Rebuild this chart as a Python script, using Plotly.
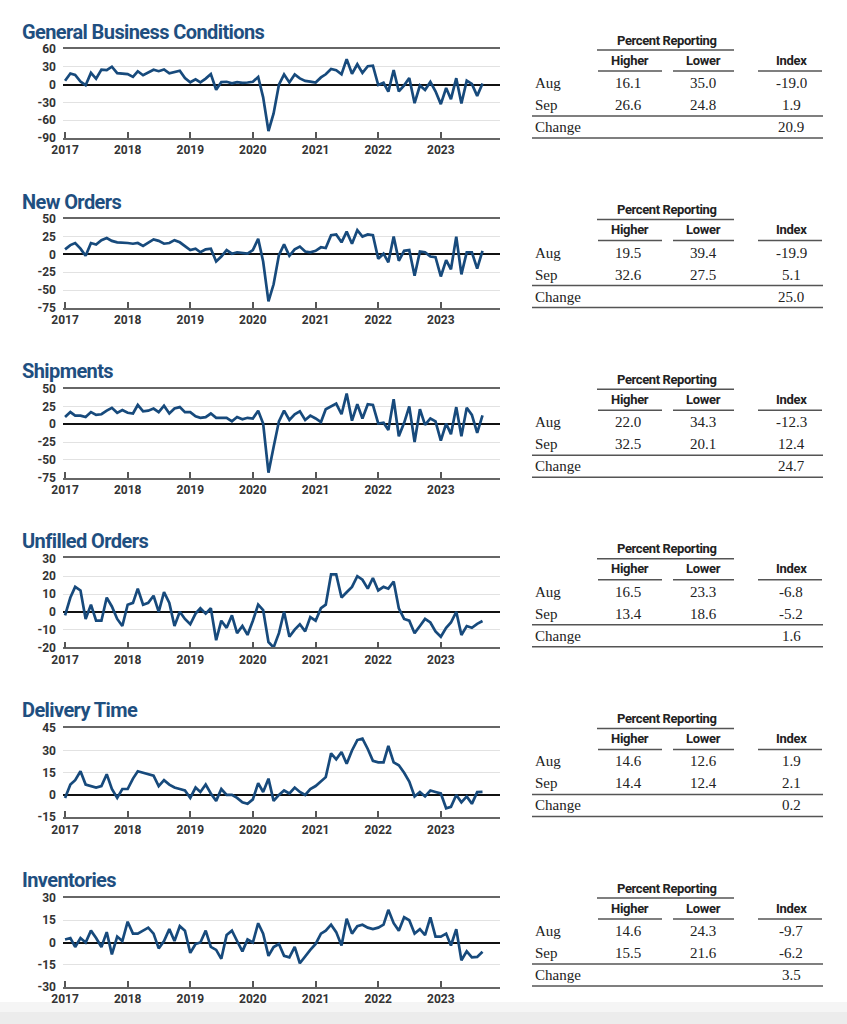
import plotly.graph_objects as go
import pandas as pd

W, H = 847, 1024

dates = pd.date_range("2017-01-01", periods=81, freq="MS")
years = [2017, 2018, 2019, 2020, 2021, 2022, 2023]

titles = ["General Business Conditions", "New Orders", "Shipments",
          "Unfilled Orders", "Delivery Time", "Inventories"]

general = [6.5, 18.7, 16.4, 5.2, -1.0, 19.8, 9.8, 25.2, 24.4, 30.2, 19.4, 18.0,
           17.7, 13.1, 22.5, 15.8, 20.1, 25.0, 22.6, 25.6, 19.0, 21.1, 23.3, 10.9,
           3.9, 8.8, 3.7, 10.1, 17.8, -8.6, 4.3, 4.8, 2.0, 4.0, 2.9, 3.5,
           4.8, 12.9, -21.5, -78.2, -48.5, -0.2, 17.2, 3.7, 17.0, 10.5, 6.3, 4.9,
           3.5, 12.1, 17.4, 26.3, 24.3, 17.4, 43.0, 18.3, 34.3, 19.8, 30.9, 31.9,
           -0.7, 3.1, -11.8, 24.6, -11.6, -1.2, 11.1, -31.3, -1.5, -9.1, 4.5, -11.2,
           -32.9, -5.8, -24.6, 10.8, -31.8, 6.6, 1.1, -19.0, 1.9]

new_orders = [7, 13, 16, 8, -2, 16, 14, 20, 23, 19, 17, 17,
              16, 15, 16, 12, 16, 21, 19, 15, 16, 20, 17, 12,
              6, 8, 3, 7, 8, -10, -3, 6, 1, 3, 2, 1,
              6, 22, -10, -66, -42, -1, 14, -2, 7, 11, 4, 3,
              5, 10, 9, 27, 28, 17, 32, 15, 34, 25, 28, 27,
              -6, 1, -11, 25, -9, 5, 6, -30, 4, 3, -3, -4,
              -31, -8, -21, 25, -28, 3, 3, -19.9, 5.1]

shipments = [10, 17, 12, 12, 10, 17, 13, 14, 19, 23, 16, 20,
             16, 15, 27, 18, 19, 22, 17, 26, 15, 22, 24, 17,
             17, 11, 9, 10, 15, 9, 9, 9, 4, 10, 7, 9,
             8, 19, 1, -68, -32, 4, 19, 6, 14, 18, 6, 12,
             8, 3, 21, 25, 29, 14, 43, 5, 28, 8, 28, 27,
             1, 2, -8, 35, -17, 2, 25, -25, 21, -1, 8, 4,
             -23, 1, -14, 24, -17, 23, 13, -12.3, 12.4]

unfilled = [-2, 8, 14, 12, -4, 4, -5, -5, 8, 3, -4, -8,
            4, 5, 13, 4, 5, 9, 0, 11, 5, -8, 0, -4,
            -7, -1, 2, -1, 2, -16, -5, -9, -2, -12, -8, -13,
            -5, 4, 1, -17, -20, -12, 0, -14, -10, -7, -11, -3,
            -5, 2, 4, 21, 21, 8, 11, 14, 20, 18, 13, 19,
            12, 14, 13, 17, 2, -4, -5, -12, -8, -4, -6, -11,
            -14, -9, -6, 0, -13, -8, -9, -6.8, -5.2]

delivery = [-2, 7, 10, 16, 7, 6, 5, 6, 14, 4, -2, 4,
            4, 11, 16, 15, 14, 13, 6, 10, 7, 5, 4, 3,
            -2, 5, 2, 7, 1, -4, 4, 0, 0, -2, -5, -6,
            -3, 8, 2, 11, -4, 0, 3, 1, 5, 2, 0, 4,
            6, 9, 12, 28, 24, 29, 21, 30, 37, 38, 31, 23,
            22, 22, 33, 22, 20, 15, 9, -1, 2, -1, 3, 2,
            1, -9, -8, 0, -5, -1, -6, 1.9, 2.1]

inventories = [2, 3, -3, 3, 0, 8, 3, -3, 7, -8, 4, 1,
               14, 6, 6, 8, 10, 6, -4, 1, 9, 1, 11, 8,
               -7, -1, 0, 8, -3, -5, -11, 5, 8, 1, -6, 2,
               0, 13, 6, -9, -3, -1, -9, -10, -3, -14, -9, -5,
               -1, 6, 8, 12, 7, -2, 16, 6, 11, 12, 10, 9,
               10, 12, 22, 13, 8, 17, 15, 6, 9, 5, 17, 4,
               4, 6, -2, 9, -12, -6, -10, -9.7, -6.2]

series = [general, new_orders, shipments, unfilled, delivery, inventories]
y_ranges = [(-90, 60, 30), (-75, 50, 25), (-75, 50, 25),
            (-20, 30, 10), (-15, 45, 15), (-30, 30, 15)]

# Table values
higher_aug = [16.1, 19.5, 22.0, 16.5, 14.6, 14.6]
lower_aug = [35.0, 39.4, 34.3, 23.3, 12.6, 24.3]
index_aug = [-19.0, -19.9, -12.3, -6.8, 1.9, -9.7]
higher_sep = [26.6, 32.6, 32.5, 13.4, 14.4, 15.5]
lower_sep = [24.8, 27.5, 20.1, 18.6, 12.4, 21.6]
index_sep = [1.9, 5.1, 12.4, -5.2, 2.1, -6.2]
change = [20.9, 25.0, 24.7, 1.6, 0.2, 3.5]

BLUE = "#174a7c"
COND = "Roboto, Liberation Sans, sans-serif"
SERIF = "Liberation Serif, Times New Roman, serif"


def px(x):
    return x / W


def py(y):
    return 1 - y / H


def tight(s, ls):
    return f"<span style='letter-spacing:{ls}px'>{s}</span>"


fig = go.Figure()
annotations = []
shapes = []
layout = {}

for i in range(6):
    top = 49 + 169.8 * i
    bottom = top + 89
    n = "" if i == 0 else str(i + 1)
    fig.add_trace(go.Scatter(x=dates, y=series[i], mode="lines",
                             line=dict(color=BLUE, width=2.7),
                             xaxis="x" + n, yaxis="y" + n,
                             showlegend=False, hoverinfo="skip"))
    lo, hi, step = y_ranges[i]
    tv = list(range(lo, hi + 1, step))
    layout["xaxis" + n] = dict(
        domain=[px(63), px(500)], anchor="y" + n, automargin=False,
        range=["2016-12-20", "2023-12-12"], type="date",
        tickvals=[f"{y}-01-01" for y in years], ticktext=[str(y) for y in years],
        ticks="inside", ticklen=6, tickwidth=1.5, tickcolor="#555",
        showline=True, linecolor="#666", linewidth=1.8, mirror=True,
        showgrid=False, zeroline=False,
        tickfont=dict(family=COND, size=12, color="#333", weight="bold"),
    )
    layout["yaxis" + n] = dict(
        domain=[py(bottom), py(top)], anchor="x" + n, automargin=False,
        range=[lo, hi], tickvals=tv, ticktext=[str(v) for v in tv],
        showgrid=True, gridcolor="#e2e2e2", gridwidth=1,
        zeroline=True, zerolinecolor="#111", zerolinewidth=2,
        showline=False, ticks="", ticklabelstandoff=6,
        tickfont=dict(family=COND, size=12, color="#333", weight="bold"),
    )
    # Title
    annotations.append(dict(x=px(20), y=py(32 + 169.6 * i), xref="paper", yref="paper",
                            text=tight(titles[i], -0.6), showarrow=False,
                            xanchor="left", yanchor="middle",
                            font=dict(family=COND, size=20, color="#1f4f80", weight="bold")))
    # Table
    b = 169.6 * i
    hdr = dict(family=COND, size=13, color="#222", weight="bold")
    annotations.append(dict(x=px(667), y=py(40 + b), xref="paper", yref="paper",
                            text=tight("Percent Reporting", -0.4), showarrow=False, font=hdr,
                            xanchor="center", yanchor="middle"))
    for label, cx in (("Higher", 630), ("Lower", 703), ("Index", 791)):
        annotations.append(dict(x=px(cx), y=py(60 + b), xref="paper", yref="paper",
                                text=tight(label, -0.3), showarrow=False, font=hdr,
                                xanchor="center", yanchor="middle"))
    shapes.append(dict(type="line", xref="paper", yref="paper",
                       x0=px(597), x1=px(734), y0=py(50 + b), y1=py(50 + b),
                       line=dict(color="#555", width=1.5)))
    for x0, x1 in ((598, 662), (673, 734), (758, 822)):
        shapes.append(dict(type="line", xref="paper", yref="paper",
                           x0=px(x0), x1=px(x1), y0=py(71 + b), y1=py(71 + b),
                           line=dict(color="#555", width=1.5)))
    for yy in (116, 138):
        shapes.append(dict(type="line", xref="paper", yref="paper",
                           x0=px(532), x1=px(823), y0=py(yy + b), y1=py(yy + b),
                           line=dict(color="#555", width=1.5)))
    body = dict(family=SERIF, size=15, color="#222")
    rows = [("Aug", 83, [higher_aug[i], lower_aug[i], index_aug[i]]),
            ("Sep", 105, [higher_sep[i], lower_sep[i], index_sep[i]]),
            ("Change", 127, [None, None, change[i]])]
    for lab, ry, vals in rows:
        annotations.append(dict(x=px(533), y=py(ry + b), xref="paper", yref="paper",
                                text=lab, showarrow=False, font=body,
                                xanchor="left", yanchor="middle"))
        for v, cx in zip(vals, (628, 703, 791)):
            if v is None:
                continue
            annotations.append(dict(x=px(cx), y=py(ry + b), xref="paper", yref="paper",
                                    text=f"{v:.1f}", showarrow=False, font=body,
                                    xanchor="center", yanchor="middle"))

# light grey page edge at the bottom
shapes.append(dict(type="rect", xref="paper", yref="paper", x0=0, x1=1,
                   y0=py(1012), y1=py(1002), fillcolor="#f5f5f5", line=dict(width=0),
                   layer="below"))
shapes.append(dict(type="rect", xref="paper", yref="paper", x0=0, x1=1,
                   y0=0, y1=py(1012), fillcolor="#ececec", line=dict(width=0),
                   layer="below"))

fig.update_layout(width=W, height=H, margin=dict(l=0, r=0, t=0, b=0, autoexpand=False),
                  paper_bgcolor="white", plot_bgcolor="rgba(0,0,0,0)",
                  annotations=annotations, shapes=shapes, **layout)

fig.write_html("out.html", config={"displayModeBar": False},
               post_script="document.body.style.margin='0px';document.body.style.overflow='hidden';")
